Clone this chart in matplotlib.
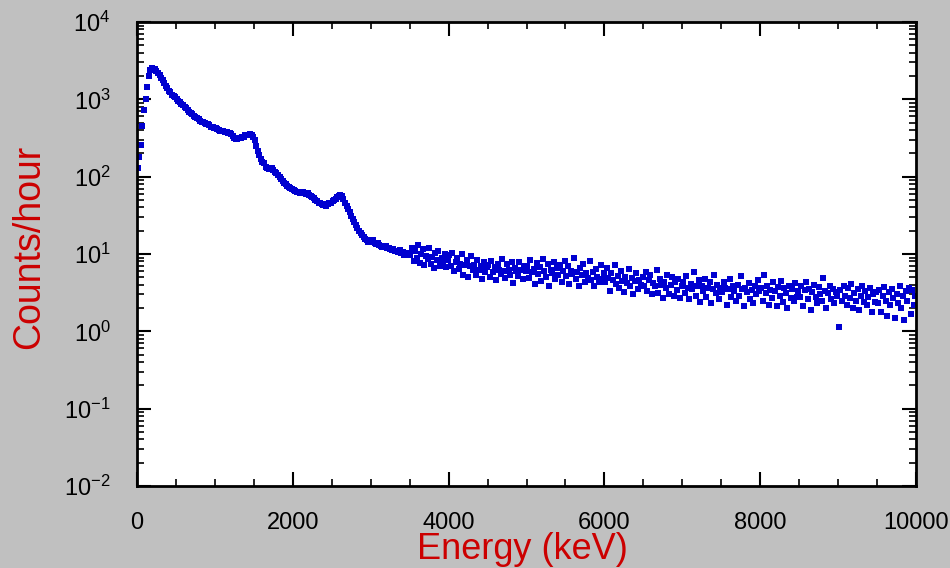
import numpy as np
import matplotlib
matplotlib.use("Agg")
import matplotlib.pyplot as plt
from matplotlib.ticker import MultipleLocator, LogLocator, NullFormatter

plt.rcParams["font.family"] = ["Liberation Sans", "DejaVu Sans"]
plt.rcParams["mathtext.fontset"] = "custom"
plt.rcParams["mathtext.rm"] = "Liberation Sans"
plt.rcParams["mathtext.it"] = "Liberation Sans:italic"
plt.rcParams["mathtext.default"] = "regular"
plt.rcParams["axes.unicode_minus"] = False

# channel width of the spectrum (keV)
BIN_KEV = 20

# counts/hour per 20 keV channel (rows of 500 keV)
counts_low = [
    130, 180, 260, 450, 720, 1000, 1450, 2000, 2400, 2550, 2500, 2450, 2300,
    2200, 2050, 1900, 1800, 1650, 1500, 1400, 1300, 1250, 1150, 1100, 1060,
    1000, 960, 920, 880, 840, 800, 770, 730, 690, 660, 640, 610, 590, 570,
    555, 530, 510, 505, 495, 485, 475, 460, 445, 435, 430,
    425, 415, 400, 395, 390, 385, 378, 375, 370, 368, 360, 340, 320, 308,
    305, 315, 320, 325, 330, 345, 350, 345, 355, 345, 330,
    300, 250, 215, 190, 170, 155, 148, 135, 128, 126, 130, 128, 122, 115,
    110, 105, 98, 92, 88, 84, 80, 76, 74, 72, 70,
    67, 65, 64, 63, 62, 63, 64, 62, 60, 62, 58, 56, 55, 53, 50, 48, 46, 45,
    44, 43, 44, 42, 44, 45, 46,
    48, 50, 52, 54, 57, 58, 56, 52, 46, 42, 38, 35, 31, 28, 26, 24, 22, 20,
    18.5, 17.5, 16.5, 15.5, 15, 14.5, 14.5,
    14.5, 15, 14, 13.5, 13.8, 13, 12.8, 12.5, 12.2, 12.8, 12, 11.8, 11.5,
    11.2, 11.6, 11, 10.8, 10.5, 11.2, 10.3, 10.6, 9.8, 10.2, 9.6, 10,
]

counts_high = [
    9.6, 11.8, 8.2, 10.8, 8.9, 12.9, 7.6, 10.1, 11.5, 7.2, 9.5, 8.5, 11.9,
    7.5, 9.1, 6.6, 10.2, 8.3, 10.9, 6.9, 9.0, 7.8, 10.1, 6.8, 8.3,
    9.6, 6.9, 10.4, 6.0, 7.9, 8.8, 6.4, 7.5, 9.9, 5.4, 7.3, 8.4, 5.1, 6.9,
    9.4, 6.3, 7.2, 5.4, 8.3, 6.2, 7.0, 4.7, 7.8, 5.9, 6.8,
    7.2, 5.0, 8.2, 5.9, 6.8, 4.6, 7.5, 6.3, 5.5, 8.7, 6.0, 4.9, 7.4, 6.2,
    5.3, 7.9, 4.2, 6.5, 6.0, 5.2, 7.8, 6.3, 4.7, 7.1, 6.1,
    7.1, 4.9, 8.3, 5.8, 6.4, 4.1, 7.6, 5.5, 6.7, 4.5, 8.7, 6.0, 5.1, 7.4,
    3.9, 6.2, 5.7, 7.8, 4.8, 6.5, 5.3, 7.3, 4.4, 6.0, 8.1,
    5.2, 7.0, 4.1, 6.1, 5.5, 8.9, 4.7, 5.9, 3.8, 6.5, 5.3, 7.4, 4.4, 5.7,
    4.9, 8.0, 4.6, 5.9, 3.9, 6.4, 5.1, 4.3, 7.3, 4.7, 5.6,
    4.4, 6.6, 4.9, 3.3, 5.6, 4.6, 7.2, 4.1, 5.2, 3.6, 6.0, 4.5, 3.2, 5.0,
    4.2, 6.4, 3.8, 4.9, 3.0, 4.5, 5.6, 3.5, 4.6, 4.0, 5.1,
    3.9, 5.9, 3.3, 4.6, 5.3, 3.0, 4.2, 3.8, 6.2, 3.1, 4.7, 4.0, 2.7, 4.4,
    3.6, 5.4, 3.0, 4.0, 5.0, 2.9, 4.3, 3.4, 4.7, 2.7, 3.9,
    4.3, 3.1, 5.2, 3.6, 2.6, 4.1, 3.5, 5.9, 2.9, 3.9, 4.6, 2.4, 3.8, 3.3,
    4.8, 2.8, 3.6, 4.3, 2.3, 3.5, 5.3, 3.1, 4.0, 2.6, 3.6,
    3.2, 4.4, 3.6, 2.2, 3.5, 4.8, 2.8, 3.8, 3.3, 2.5, 4.0, 2.9, 5.2, 3.5,
    2.1, 3.6, 3.2, 4.2, 2.6, 3.4, 2.3, 3.9, 3.0, 4.6, 3.3,
    3.6, 2.5, 5.3, 3.1, 3.9, 2.2, 3.4, 2.7, 4.3, 3.3, 2.1, 3.7, 2.9, 4.5,
    2.4, 3.6, 3.1, 2.0, 3.9, 2.7, 3.5, 2.5, 4.2, 2.8, 3.3,
    2.8, 3.8, 2.1, 3.4, 4.4, 2.6, 3.5, 1.9, 3.2, 4.0, 2.8, 2.3, 3.7, 3.0,
    2.5, 4.9, 3.3, 2.0, 3.1, 3.9, 2.6, 3.5, 2.3, 3.2, 2.9,
    1.15, 3.4, 2.5, 3.8, 2.9, 2.2, 3.6, 2.7, 4.1, 2.0, 3.1, 2.5, 3.5, 1.9,
    2.9, 3.9, 2.4, 3.3, 2.2, 2.8, 3.6, 1.8, 3.0, 2.4, 3.2,
    2.3, 3.4, 1.8, 2.9, 3.7, 2.5, 1.6, 3.2, 2.2, 3.5, 2.7, 1.5, 3.0, 2.3,
    3.8, 2.0, 2.9, 1.4, 3.3, 2.5, 3.6, 1.7, 3.4, 2.2, 2.9,
]

counts = np.array(counts_low + counts_high)
energy = np.arange(len(counts)) * BIN_KEV + BIN_KEV / 2

RED = "#cc0000"

fig = plt.figure(figsize=(9.5, 5.68), dpi=100, facecolor="#c0c0c0")
ax = fig.add_axes([137 / 950, 1 - 486 / 568, 779 / 950, 464 / 568])
ax.set_facecolor("white")

ax.plot(energy, counts, ls="none", marker="s", ms=4.2, color="#0000d0",
        markeredgewidth=0)

ax.set_yscale("log")
ax.set_xlim(0, 10000)
ax.set_ylim(1e-2, 1e4)

ax.xaxis.set_major_locator(MultipleLocator(2000))
ax.xaxis.set_minor_locator(MultipleLocator(500))
ax.yaxis.set_major_locator(LogLocator(base=10, numticks=20))
ax.yaxis.set_minor_locator(LogLocator(base=10, subs=np.arange(2, 10), numticks=20))
ax.yaxis.set_minor_formatter(NullFormatter())

ax.tick_params(which="both", direction="in", top=True, right=True,
               color="black", labelsize=17, pad=19)
ax.tick_params(which="major", length=10, width=1.5)
ax.tick_params(which="minor", length=5, width=1.2)
for s in ax.spines.values():
    s.set_linewidth(2)

ax.set_xlabel("Energy (keV)", fontsize=26, color=RED, labelpad=-2)
ax.xaxis.label.set_x(0.495)
ax.set_ylabel("Counts/hour", fontsize=27, color=RED, labelpad=12)
ax.yaxis.label.set_y(0.515)

fig.savefig("out.png", dpi=100, facecolor=fig.get_facecolor())
